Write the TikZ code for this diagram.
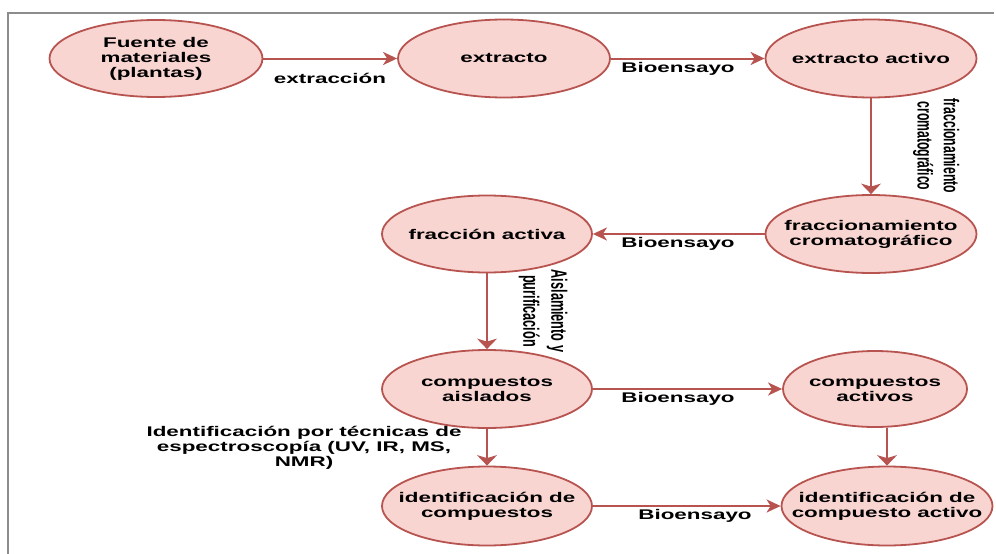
\documentclass[tikz,border=0pt]{standalone}
\usepackage{fontspec}
\usetikzlibrary{shapes.geometric,arrows.meta}
\newfontfamily\wfont[FakeStretch=1.6]{Liberation Sans}
\newfontfamily\rfont{Liberation Sans}
\definecolor{rstroke}{HTML}{B85450}
\definecolor{rfill}{HTML}{F9D5D2}
\definecolor{framec}{HTML}{8C8C8C}
\begin{document}
\begin{tikzpicture}[x=1pt,y=-1pt,
  proc/.style={ellipse, draw=rstroke, fill=rfill, line width=1.8pt, inner xsep=-80pt, inner ysep=-25pt,
    font=\wfont\bfseries\fontsize{14}{15}\selectfont, align=center, text=black},
  harr/.style={draw=rstroke, line width=2pt, -{Stealth[length=14pt,width=13pt,inset=4pt]}},
  varr/.style={draw=rstroke, line width=2pt, -{Stealth[length=10.5pt,width=20pt,inset=3pt]}},
  lbl/.style={inner sep=0pt, font=\wfont\bfseries\fontsize{14}{15}\selectfont, align=center, text=black},
  vlbl/.style={inner sep=0pt, rotate=-90, text=black}]
\useasboundingbox (0,0) rectangle (996,554);
% frame
\coordinate (fbl) at (8,554);
\coordinate (ftl) at (8,13);
\coordinate (ftr) at (994,13);
\draw[framec, line width=1.5pt] (fbl) -- (ftl) -- (ftr);
% nodes
\node[proc, minimum width=213pt, minimum height=77pt] (fuente) at (156,58.5) {Fuente de\\materiales\\(plantas)};
\node[proc, minimum width=212pt, minimum height=78pt] (extr) at (504,58.5) {extracto};
\node[proc, minimum width=211pt, minimum height=78pt] (exact) at (871,58.5) {extracto activo};
\node[proc, minimum width=211pt, minimum height=78pt] (fcrom) at (871,234) {fraccionamiento\\cromatográfico};
\node[proc, minimum width=210pt, minimum height=77pt] (fact) at (487,234) {fracción activa};
\node[proc, minimum width=210pt, minimum height=78pt] (cais) at (487,389) {compuestos\\aislados};
\node[proc, minimum width=184pt, minimum height=76pt] (cact) at (875,389) {compuestos\\activos};
\node[proc, minimum width=210pt, minimum height=79pt] (idc) at (487,506) {identificación de\\compuestos};
\node[proc, minimum width=211pt, minimum height=79pt] (idca) at (887,506) {identificación de\\compuesto activo};
% connectors
\draw[harr] (fuente.east) -- (extr.west);
\draw[harr] (extr.east) -- (exact.west);
\draw[varr] (exact.south) -- (fcrom.north);
\draw[harr] (fcrom.west) -- (fact.east);
\draw[varr] (fact.south) -- (cais.north);
\draw[harr] (cais.east) -- (cact.west);
\draw[varr] (cais.south) -- (idc.north);
\draw[harr] (idc.east) -- (idca.west);
\draw[varr] (idca.north |- cact.south) -- (idca.north);
% labels
\node[lbl] (l1) at (330,78) {extracción};
\node[lbl] (l2) at (678,69) {Bioensayo};
\node[lbl] (l3) at (678,244) {Bioensayo};
\node[lbl] (l4) at (678,399) {Bioensayo};
\node[lbl] (l5) at (695,516) {Bioensayo};
\node[lbl] (l6) at (304,448) {Identificación por técnicas de\\espectroscopía (UV, IR, MS,\\NMR)};
\node[vlbl] (v1) at (936,146) {\scalebox{1}[1.75]{\rfont\bfseries\fontsize{12.2}{15}\selectfont\begin{tabular}{@{}c@{}}fraccionamiento\\cromatográfico\end{tabular}}};
\node[vlbl] (v2) at (543,311) {\scalebox{1}[1.75]{\rfont\bfseries\fontsize{12.7}{16}\selectfont\begin{tabular}{@{}c@{}}Aislamiento y\\purificación\end{tabular}}};
\end{tikzpicture}
\end{document}
